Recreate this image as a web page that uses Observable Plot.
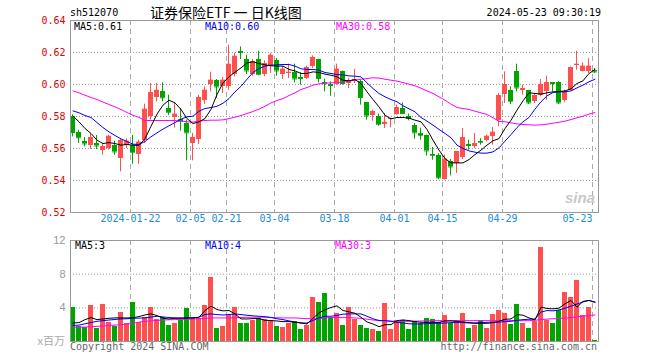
<!DOCTYPE html>
<html><head><meta charset="utf-8">
<script src="https://cdn.jsdelivr.net/npm/d3@7"></script>
<script src="https://cdn.jsdelivr.net/npm/@observablehq/plot@0.6"></script>
<style>
body{margin:0;background:#fff;}
#wrap{position:relative;width:660px;height:360px;overflow:hidden;background:#fff;font-family:"DejaVu Sans Mono",monospace;}
#wrap svg{position:absolute;left:0;}
.t{position:absolute;white-space:nowrap;font-size:10px;line-height:10px;transform:translateY(-50%);}
</style></head><body><div id="wrap"></div>
<script>
const dates = [
"2024-01-08","2024-01-09","2024-01-10","2024-01-11","2024-01-12","2024-01-15","2024-01-16","2024-01-17","2024-01-18","2024-01-19",
"2024-01-22","2024-01-23","2024-01-24","2024-01-25","2024-01-26","2024-01-29","2024-01-30","2024-01-31","2024-02-01","2024-02-02",
"2024-02-05","2024-02-06","2024-02-07","2024-02-08","2024-02-19","2024-02-20","2024-02-21","2024-02-22","2024-02-23","2024-02-26",
"2024-02-27","2024-02-28","2024-02-29","2024-03-01","2024-03-04","2024-03-05","2024-03-06","2024-03-07","2024-03-08","2024-03-11",
"2024-03-12","2024-03-13","2024-03-14","2024-03-15","2024-03-18","2024-03-19","2024-03-20","2024-03-21","2024-03-22","2024-03-25",
"2024-03-26","2024-03-27","2024-03-28","2024-03-29","2024-04-01","2024-04-02","2024-04-03","2024-04-08","2024-04-09","2024-04-10",
"2024-04-11","2024-04-12","2024-04-15","2024-04-16","2024-04-17","2024-04-18","2024-04-19","2024-04-22","2024-04-23","2024-04-24",
"2024-04-25","2024-04-26","2024-04-29","2024-04-30","2024-05-06","2024-05-07","2024-05-08","2024-05-09","2024-05-10","2024-05-13",
"2024-05-14","2024-05-15","2024-05-16","2024-05-17","2024-05-20","2024-05-21","2024-05-22","2024-05-23"];

const open = [0.5800,0.5702,0.5646,0.5616,0.5633,0.5587,0.5598,0.5621,0.5535,0.5620,
0.5621,0.5560,0.5648,0.5800,0.5917,0.5958,0.5852,0.5794,0.5779,0.5756,
0.5631,0.5656,0.5902,0.6000,0.6027,0.5985,0.5985,0.6062,0.6204,0.6158,
0.6064,0.6158,0.6060,0.6117,0.6148,0.6060,0.6067,0.6077,0.6044,0.6035,
0.6110,0.6158,0.6012,0.6000,0.6000,0.6083,0.6006,0.6021,0.6017,0.5885,
0.5804,0.5802,0.5748,0.5781,0.5815,0.5850,0.5798,0.5746,0.5694,0.5683,
0.5564,0.5558,0.5408,0.5517,0.5506,0.5544,0.5625,0.5610,0.5646,0.5652,
0.5677,0.5773,0.5937,0.5964,0.6083,0.5964,0.5964,0.5896,0.5933,0.5954,
0.6012,0.6010,0.5898,0.5964,0.6117,0.6083,0.6079,0.6085];
const high = [0.5810,0.5714,0.5669,0.5690,0.5681,0.5631,0.5683,0.5646,0.5660,0.5660,
0.5681,0.5652,0.5877,0.6006,0.6006,0.6010,0.5933,0.5881,0.5850,0.5777,
0.5694,0.5933,0.5985,0.6077,0.6031,0.6044,0.6246,0.6194,0.6235,0.6183,
0.6156,0.6208,0.6148,0.6194,0.6162,0.6110,0.6127,0.6127,0.6073,0.6115,
0.6179,0.6158,0.6033,0.6017,0.6127,0.6085,0.6037,0.6094,0.6027,0.5885,
0.5840,0.5815,0.5819,0.5790,0.5871,0.5885,0.5815,0.5756,0.5727,0.5683,
0.5606,0.5568,0.5558,0.5531,0.5579,0.5725,0.5652,0.5694,0.5662,0.5683,
0.5731,0.5944,0.6079,0.5985,0.6127,0.5996,0.5964,0.5944,0.6031,0.6052,
0.6012,0.6017,0.5964,0.6110,0.6208,0.6135,0.6162,0.6100];
const low = [0.5673,0.5631,0.5610,0.5594,0.5594,0.5558,0.5590,0.5558,0.5454,0.5600,
0.5502,0.5502,0.5631,0.5777,0.5892,0.5892,0.5806,0.5727,0.5708,0.5523,
0.5523,0.5625,0.5875,0.5954,0.5912,0.5944,0.5964,0.6048,0.6156,0.6062,
0.6052,0.6054,0.6048,0.6069,0.6052,0.6031,0.6037,0.6010,0.5996,0.6031,
0.6100,0.6010,0.5954,0.5927,0.5996,0.5996,0.5975,0.6006,0.5871,0.5777,
0.5771,0.5739,0.5725,0.5729,0.5808,0.5815,0.5773,0.5658,0.5652,0.5552,
0.5527,0.5406,0.5402,0.5429,0.5444,0.5531,0.5590,0.5600,0.5621,0.5642,
0.5621,0.5735,0.5881,0.5875,0.5954,0.5933,0.5875,0.5881,0.5923,0.5902,
0.5954,0.5875,0.5885,0.5960,0.6090,0.6079,0.6069,0.6069];
const close = [0.5700,0.5667,0.5629,0.5667,0.5616,0.5610,0.5677,0.5579,0.5648,0.5646,
0.5577,0.5640,0.5846,0.5948,0.5964,0.5917,0.5827,0.5815,0.5771,0.5698,
0.5667,0.5917,0.5964,0.6027,0.5985,0.6027,0.6127,0.6177,0.6200,0.6085,
0.6142,0.6064,0.6131,0.6183,0.6085,0.6096,0.6077,0.6035,0.6037,0.6106,
0.6166,0.6037,0.6006,0.5994,0.6096,0.6006,0.6023,0.6029,0.5919,0.5804,
0.5829,0.5752,0.5764,0.5787,0.5854,0.5819,0.5787,0.5698,0.5683,0.5585,
0.5558,0.5417,0.5533,0.5485,0.5579,0.5667,0.5619,0.5631,0.5640,0.5677,
0.5702,0.5929,0.6000,0.5896,0.5979,0.5975,0.5885,0.5929,0.6000,0.6010,
0.6006,0.5885,0.5954,0.6106,0.6127,0.6115,0.6115,0.6079];

const ma5 = [0.5802,0.5767,0.5725,0.5694,0.5652,0.5631,0.5637,0.5631,0.5621,0.5625,
0.5621,0.5619,0.5662,0.5739,0.5815,0.5871,0.5902,0.5885,0.5844,0.5787,
0.5756,0.5767,0.5787,0.5845,0.5937,0.6010,0.6048,0.6077,0.6104,0.6135,
0.6142,0.6131,0.6123,0.6117,0.6115,0.6115,0.6094,0.6085,0.6069,0.6069,
0.6079,0.6075,0.6065,0.6058,0.6048,0.6027,0.6023,0.6031,0.6006,0.5954,
0.5906,0.5860,0.5808,0.5785,0.5794,0.5794,0.5790,0.5777,0.5767,0.5719,
0.5652,0.5590,0.5537,0.5510,0.5510,0.5510,0.5531,0.5562,0.5590,0.5621,
0.5648,0.5662,0.5725,0.5777,0.5840,0.5898,0.5948,0.5944,0.5940,0.5948,
0.5954,0.5956,0.5960,0.5973,0.6006,0.6023,0.6069,0.6094];
const ma10 = [0.5835,0.5823,0.5806,0.5794,0.5762,0.5731,0.5704,0.5681,0.5660,0.5644,
0.5627,0.5625,0.5644,0.5673,0.5698,0.5721,0.5742,0.5762,0.5783,0.5798,
0.5802,0.5833,0.5850,0.5856,0.5864,0.5883,0.5912,0.5954,0.5989,0.6033,
0.6075,0.6100,0.6115,0.6121,0.6123,0.6125,0.6125,0.6115,0.6098,0.6094,
0.6094,0.6090,0.6075,0.6069,0.6062,0.6060,0.6054,0.6052,0.6048,0.6010,
0.5975,0.5944,0.5923,0.5906,0.5892,0.5867,0.5848,0.5829,0.5794,0.5771,
0.5746,0.5719,0.5694,0.5667,0.5621,0.5600,0.5585,0.5577,0.5571,0.5571,
0.5579,0.5604,0.5646,0.5687,0.5731,0.5767,0.5794,0.5846,0.5892,0.5929,
0.5950,0.5954,0.5954,0.5960,0.5979,0.5996,0.6017,0.6033];
const ma30 = [0.5960,0.5948,0.5933,0.5919,0.5906,0.5890,0.5875,0.5860,0.5844,0.5825,
0.5808,0.5794,0.5775,0.5775,0.5775,0.5775,0.5775,0.5775,0.5771,0.5767,
0.5765,0.5771,0.5775,0.5777,0.5777,0.5779,0.5787,0.5796,0.5806,0.5819,
0.5831,0.5846,0.5864,0.5885,0.5900,0.5912,0.5931,0.5948,0.5969,0.5981,
0.5996,0.6004,0.6008,0.6010,0.6012,0.6015,0.6021,0.6027,0.6033,0.6037,
0.6042,0.6040,0.6033,0.6027,0.6021,0.6012,0.6002,0.5992,0.5977,0.5960,
0.5944,0.5923,0.5902,0.5877,0.5856,0.5850,0.5844,0.5833,0.5823,0.5813,
0.5792,0.5769,0.5767,0.5760,0.5754,0.5750,0.5748,0.5746,0.5748,0.5752,
0.5758,0.5764,0.5771,0.5781,0.5792,0.5802,0.5815,0.5825];

// volume, millions of shares
const vol = [4.0,1.76,1.64,4.28,1.52,4.4,2.24,1.76,3.44,2.08,
4.64,2.2,2.8,4.0,2.56,2.8,1.88,2.08,2.48,3.92,
2.76,2.68,4.28,7.64,1.56,1.76,3.08,4.0,2.12,2.12,
2.52,2.68,2.56,2.48,1.76,1.68,2.16,2.4,1.48,1.88,
5.24,4.64,5.72,2.8,3.28,1.88,4.04,2.6,1.88,1.52,
1.4,1.16,4.56,1.44,2.48,2.48,1.44,2.36,2.08,2.76,
2.56,2.28,3.08,2.16,2.48,3.36,1.56,1.92,2.44,1.56,
3.2,3.68,3.36,2.04,4.4,2.08,1.56,2.36,11.16,2.48,
2.16,3.64,5.88,5.28,7.28,3.08,4.04,0.16];
const volMa5 = [2.2,2.24,2.6,2.84,2.6,2.68,2.76,2.8,2.8,2.8,
2.84,2.96,3.16,3.28,3.08,2.76,2.68,2.76,2.76,2.8,
2.8,2.88,3.68,4.2,3.8,3.64,3.68,3.28,2.68,2.68,
2.72,2.72,2.52,2.48,2.44,2.36,2.36,2.28,2.2,2.08,
2.76,3.4,3.76,4.04,4.24,3.68,3.52,3.36,2.88,2.32,
2.08,1.76,2.0,2.0,2.48,2.56,2.48,2.36,2.28,2.28,
2.28,2.28,2.44,2.44,2.4,2.32,2.24,2.16,2.16,2.16,
2.24,2.4,2.64,2.68,3.2,3.12,2.8,2.56,4.08,3.92,
3.88,3.96,4.48,4.88,4.08,4.76,4.88,4.64];
const volMa10 = [1.9,1.95,2.1,2.25,2.4,2.48,2.55,2.62,2.68,2.7,
2.75,2.78,2.8,2.9,3.0,2.92,2.85,2.8,2.8,2.8,
2.82,2.88,3.2,3.28,3.2,3.15,3.2,3.28,3.2,3.12,
3.05,3.0,2.95,2.85,2.7,2.6,2.45,2.3,2.2,2.2,
2.5,2.8,3.0,3.0,3.1,3.25,3.28,3.28,3.28,3.0,
2.7,2.5,2.48,2.4,2.28,2.2,2.1,2.08,2.08,2.12,
2.16,2.16,2.2,2.24,2.28,2.24,2.2,2.2,2.26,2.28,
2.28,2.3,2.36,2.4,2.52,2.6,2.64,2.68,3.5,3.68,
3.64,3.75,3.95,4.2,4.45,4.7,4.88,4.7];
const volMa30 = [1.68,1.7,1.72,1.75,1.8,1.85,1.9,1.95,2.0,2.08,
2.15,2.3,2.4,2.45,2.5,2.55,2.58,2.6,2.62,2.65,
2.68,2.7,2.75,2.8,2.8,2.8,2.8,2.82,2.85,2.88,
2.88,2.88,2.88,2.85,2.82,2.8,2.8,2.8,2.75,2.72,
2.7,2.72,2.8,2.85,2.85,2.84,2.82,2.8,2.75,2.65,
2.55,2.48,2.45,2.42,2.4,2.4,2.4,2.42,2.44,2.46,
2.48,2.48,2.48,2.48,2.48,2.48,2.48,2.48,2.48,2.48,
2.48,2.48,2.48,2.48,2.48,2.48,2.48,2.52,2.6,2.66,
2.7,2.74,2.78,2.84,2.92,3.0,3.08,3.15];

const tickDates = ["2024-01-22","2024-02-05","2024-02-21","2024-03-04","2024-03-18","2024-04-01","2024-04-15","2024-04-29","2024-05-23"];
const tickLabels = ["2024-01-22","02-05","02-21","03-04","03-18","04-01","04-15","04-29","05-23"];
const priceTicks = [0.52,0.54,0.56,0.58,0.60,0.62,0.64];
const volTicks = [4,8,12];

const RED = "#ff5050", GREEN = "#00a400";
const MONO = "DejaVu Sans Mono";
const N = dates.length;
const rows = dates.map((d,i)=>({i, d, o:open[i], h:high[i], l:low[i], c:close[i], v:vol[i], up: close[i] >= open[i]}));
const ticks = tickDates.map((d,k)=>({x: dates.indexOf(d), label: tickLabels[k], last: k === tickDates.length-1}));
const col = d => d.up ? RED : GREEN;
const ctr = d => d.i + 5/12;

const price = Plot.plot({
  width: 660, height: 228,
  marginLeft: 70, marginRight: 62, marginTop: 20, marginBottom: 16,
  x: {domain: [0, N], axis: null},
  y: {domain: [0.52, 0.64], axis: null},
  color: {type: "identity"},
  style: {background: "transparent", fontFamily: MONO},
  marks: [
    Plot.ruleY(priceTicks.slice(1, -1), {stroke: "#999", strokeDasharray: "1,2"}),
    Plot.ruleX(ticks, {x: "x", stroke: "#aaa", strokeDasharray: "5,4"}),
    Plot.ruleX(rows, {x: d => d.i + 1/3, y1: "l", y2: "h", stroke: col}),
    Plot.rect(rows, {x1: "i", x2: d => d.i + 5/6, y1: "o", y2: "c", fill: col, shapeRendering: "crispEdges"}),
    Plot.ruleY(rows, {y: "c", x1: "i", x2: d => d.i + 5/6, stroke: col}),
    Plot.line(rows, {x: ctr, y: d => ma30[d.i], stroke: "#ff00ff", strokeWidth: 1}),
    Plot.line(rows, {x: ctr, y: d => ma10[d.i], stroke: "#0000ff", strokeWidth: 1}),
    Plot.line(rows, {x: ctr, y: d => ma5[d.i], stroke: "#000000", strokeWidth: 1}),
    Plot.frame({stroke: "#999"}),
    Plot.text(priceTicks, {y: d => d, text: d => d.toFixed(2), frameAnchor: "left", dx: -5, textAnchor: "end", fill: "#e00000", fontFamily: MONO, fontSize: 10}),
    Plot.text(ticks.filter(t => !t.last), {x: "x", text: "label", frameAnchor: "bottom", dy: 9, fill: "#1a8cd8", fontFamily: MONO, fontSize: 10}),
    Plot.text(ticks.filter(t => t.last), {x: "x", text: "label", frameAnchor: "bottom", dy: 9, textAnchor: "end", fill: "#1a8cd8", fontFamily: MONO, fontSize: 10})
  ]
});

const volume = Plot.plot({
  width: 660, height: 132,
  marginLeft: 70, marginRight: 62, marginTop: 12, marginBottom: 19,
  x: {domain: [0, N], axis: null},
  y: {domain: [0, 12], axis: null},
  color: {type: "identity"},
  style: {background: "transparent", fontFamily: MONO},
  marks: [
    Plot.ruleY([4, 8], {stroke: "#999", strokeDasharray: "1,2"}),
    Plot.ruleX(ticks, {x: "x", stroke: "#aaa", strokeDasharray: "5,4"}),
    Plot.rect(rows, {x1: "i", x2: d => d.i + 5/6, y1: () => 0, y2: "v", fill: col, shapeRendering: "crispEdges"}),
    Plot.line(rows, {x: ctr, y: d => volMa30[d.i], stroke: "#ff00ff", strokeWidth: 1}),
    Plot.line(rows, {x: ctr, y: d => volMa10[d.i], stroke: "#0000ff", strokeWidth: 1}),
    Plot.line(rows, {x: ctr, y: d => volMa5[d.i], stroke: "#000000", strokeWidth: 1}),
    Plot.frame({stroke: "#999"}),
    Plot.text(volTicks, {y: d => d, text: d => String(d), frameAnchor: "left", dx: -5, textAnchor: "end", fill: "#999", fontFamily: "Liberation Sans", fontSize: 11})
  ]
});

const wrap = document.getElementById("wrap");
price.style.top = "0px";
volume.style.top = "228px";
wrap.appendChild(price);
wrap.appendChild(volume);

function label(text, opts) {
  const s = document.createElement("span");
  s.className = "t";
  s.textContent = text;
  Object.assign(s.style, opts);
  wrap.appendChild(s);
  return s;
}
label("sh512070", {left: "70px", top: "13px", color: "#000"});
label("证券保险ETF 一 日K线图", {left: "150px", top: "12px", fontSize: "14px", lineHeight: "14px", fontFamily: "'Noto Sans CJK SC', sans-serif", color: "#000"});
label("2024-05-23 09:30:19", {right: "59px", top: "13px", color: "#000"});
label("MA5:0.61", {left: "74px", top: "27px", color: "#000"});
label("MA10:0.60", {left: "205px", top: "27px", color: "#0000ff"});
label("MA30:0.58", {left: "336px", top: "27px", color: "#ff00ff"});
label("MA5:3", {left: "75px", top: "246px", color: "#000"});
label("MA10:4", {left: "205px", top: "246px", color: "#0000ff"});
label("MA30:3", {left: "335px", top: "246px", color: "#ff00ff"});
label("x百万", {right: "595px", top: "340px", color: "#aaa", fontSize: "11px", lineHeight: "12px", fontFamily: "'Noto Sans CJK SC', sans-serif"});
label("Copyright 2024 SINA.COM", {left: "70px", top: "347px", color: "#666"});
label("http://finance.sina.com.cn", {right: "63px", top: "347px", color: "#666"});
label("sina", {left: "565px", top: "197px", color: "#c8c8c8", fontSize: "15px", lineHeight: "15px", fontWeight: "bold", fontStyle: "italic", fontFamily: "'Liberation Sans', sans-serif"});
</script>
</body></html>
